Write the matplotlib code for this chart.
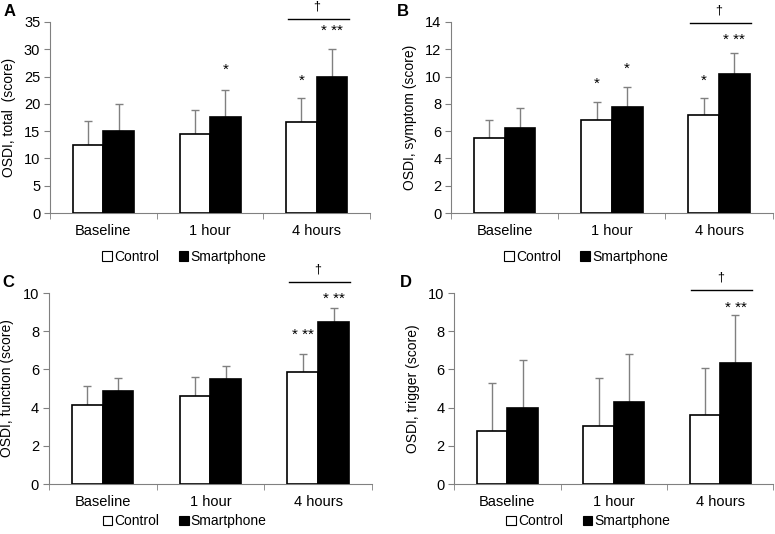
import numpy as np
import matplotlib.pyplot as plt
from matplotlib.patches import Patch
plt.rcParams["font.family"] = ["Liberation Sans", "DejaVu Sans"]

# Data
groups = ['Baseline', '1 hour', '4 hours']
series = ['Control', 'Smartphone']

total_ctrl = [12.4, 14.5, 16.6]
total_smart = [15.0, 17.6, 25.0]
total_ctrl_sd = [4.4, 4.4, 4.4]
total_smart_sd = [4.9, 4.9, 5.0]

symptom_ctrl = [5.5, 6.85, 7.15]
symptom_smart = [6.2, 7.8, 10.15]
symptom_ctrl_sd = [1.3, 1.25, 1.3]
symptom_smart_sd = [1.5, 1.45, 1.55]

function_ctrl = [4.15, 4.6, 5.85]
function_smart = [4.85, 5.5, 8.5]
function_ctrl_sd = [1.0, 0.98, 0.98]
function_smart_sd = [0.72, 0.7, 0.7]

trigger_ctrl = [2.77, 3.06, 3.62]
trigger_smart = [3.97, 4.31, 6.31]
trigger_ctrl_sd = [2.5, 2.47, 2.48]
trigger_smart_sd = [2.5, 2.51, 2.52]

# significance marks: (group index, series index, label, y)
total_marks = [(1, 1, '*', 26.3), (2, 0, '*', 24.3), (2, 1, '* **', 33.3)]
symptom_marks = [(1, 0, '*', 9.5), (1, 1, '*', 10.6), (2, 0, '*', 9.7), (2, 1, '* **', 12.7)]
function_marks = [(2, 0, '* **', 7.8), (2, 1, '* **', 9.7)]
trigger_marks = [(2, 1, '* **', 9.2)]

panels = [
    ('A', 'OSDI, total  (score)', total_ctrl, total_smart, total_ctrl_sd, total_smart_sd,
     35, 5, total_marks, 35.55, [0.0645, 0.601, 0.413, 0.358], -0.23),
    ('B', 'OSDI, symptom (score)', symptom_ctrl, symptom_smart, symptom_ctrl_sd, symptom_smart_sd,
     14, 2, symptom_marks, 13.92, [0.582, 0.601, 0.415, 0.358], -0.23),
    ('C', 'OSDI, function (score)', function_ctrl, function_smart, function_ctrl_sd, function_smart_sd,
     10, 2, function_marks, 10.57, [0.063, 0.0936, 0.417, 0.3577], -0.195),
    ('D', 'OSDI, trigger (score)', trigger_ctrl, trigger_smart, trigger_ctrl_sd, trigger_smart_sd,
     10, 2, trigger_marks, 10.14, [0.586, 0.0936, 0.412, 0.3577], -0.195),
]

fig = plt.figure(figsize=(7.75, 5.34), dpi=100)
w = 0.286
x = np.arange(len(groups))
grey = '#808080'

for letter, ylabel, ctrl, smart, ctrl_sd, smart_sd, ymax, step, marks, line_y, rect, leg_y in panels:
    ax = fig.add_axes(rect)
    for i, (vals, sd, fc) in enumerate([(ctrl, ctrl_sd, 'white'), (smart, smart_sd, 'black')]):
        xs = x + (i - 0.5) * w
        ax.bar(xs, vals, w, color=fc, edgecolor='black', linewidth=1.2, zorder=3)
        ax.errorbar(xs, vals, yerr=[np.zeros(len(vals)), sd], fmt='none',
                    ecolor=grey, elinewidth=1, capsize=3, capthick=1, zorder=2)
    for gi, si, lab, yy in marks:
        ax.text(x[gi] + (si - 0.5) * w, yy, lab, ha='center', va='center',
                fontsize=11, clip_on=False)
    ax.plot([x[2] - w * 0.95, x[2] + w * 1.05], [line_y, line_y], color='black',
            lw=1, clip_on=False)
    ax.text(x[2], line_y + ymax * 0.035, '\u2020', ha='center', va='bottom',
            fontsize=9, clip_on=False)

    ax.set_xlim(-0.5, 2.5)
    ax.set_ylim(0, ymax)
    ax.set_yticks(np.arange(0, ymax + 0.1, step))
    ax.set_xticks(x)
    ax.set_xticklabels(groups)
    ax.set_xticks([-0.5, 0.5, 1.5, 2.5], minor=True)
    ax.tick_params(axis='x', which='major', length=0, pad=8, labelsize=10.5)
    ax.tick_params(axis='x', which='minor', length=4, color=grey, direction='out')
    ax.tick_params(axis='y', length=4, color=grey, labelsize=10.5, pad=3)
    for s in ['top', 'right']:
        ax.spines[s].set_visible(False)
    for s in ['left', 'bottom']:
        ax.spines[s].set_color(grey)
    ax.set_ylabel(ylabel, fontsize=10, labelpad=6)

    handles = [Patch(facecolor='white', edgecolor='black', lw=0.8),
               Patch(facecolor='black', edgecolor='black', lw=0.8)]
    ax.legend(handles, series, loc='center', bbox_to_anchor=(0.42, leg_y),
              ncol=2, frameon=False, fontsize=10, handlelength=0.7,
              handleheight=0.7, handletextpad=0.15, columnspacing=1.4,
              borderpad=0)

    bb = ax.get_position()
    fig.text(bb.x0 - 0.06 if letter in 'AC' else bb.x0 - 0.07, bb.y1 + 0.02, letter,
             fontsize=12, fontweight='bold', ha='left', va='center')

fig.savefig('out.png', dpi=100)
